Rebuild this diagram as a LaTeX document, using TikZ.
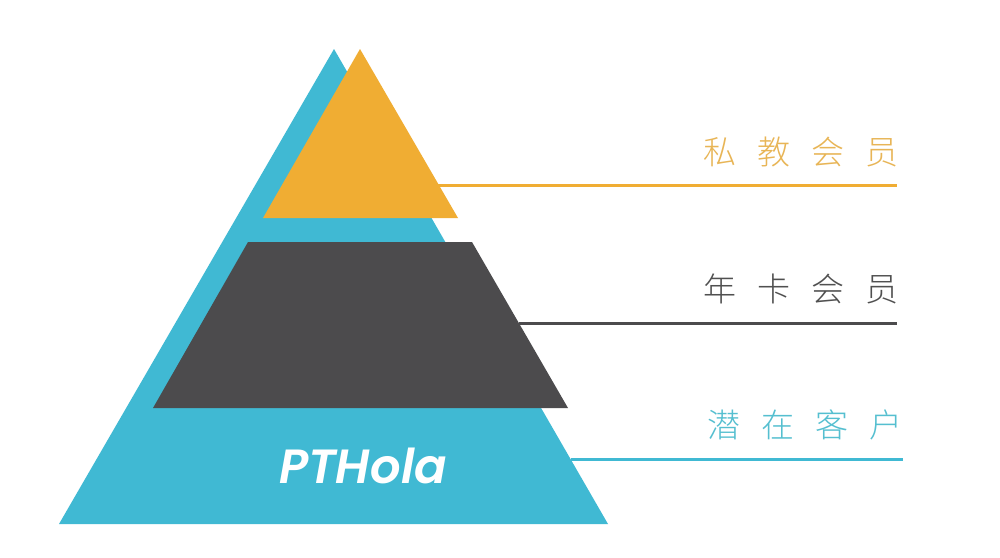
\documentclass[tikz,border=0pt]{standalone}
\usepackage{fontspec}
\setmainfont{Poppins}
\newfontfamily\cjk{Noto Sans CJK SC}[UprightFont={* Light}]
\newfontfamily\logofont{Poppins}[UprightFont={* SemiBold Italic}]
\definecolor{pblue}{HTML}{40B9D3}
\definecolor{porange}{HTML}{F0AD33}
\definecolor{pdark}{HTML}{4C4B4D}
\definecolor{torange}{HTML}{E8B556}
\definecolor{tdark}{HTML}{505050}
\definecolor{tblue}{HTML}{55BFD0}
\tikzset{
  level/.style={line width=3pt},
  label/.style={anchor=east, inner sep=0pt, font=\cjk\fontsize{33}{33}\selectfont},
}
\newcommand{\gapch}{\hspace{21pt}}
\begin{document}
\begin{tikzpicture}[x=1pt,y=-1pt]
\fill[white] (0,0) rectangle (1000,557);
\useasboundingbox (0,0) rectangle (1000,557);
% shapes
\fill[pblue] (334,49) -- (608,524) -- (59,524) -- cycle;
\fill[porange] (360,49) -- (458,218) -- (263,218) -- cycle;
\fill[pdark] (248,242) -- (472,242) -- (568,408) -- (153,408) -- cycle;
\node[white, inner sep=0pt, anchor=base, font=\logofont\fontsize{48}{48}\selectfont] (logo) at (363,483) {PTHola};
% anchors of the lines
\coordinate (o1) at (438,185);
\coordinate (o2) at (897,185);
\coordinate (d1) at (519,323);
\coordinate (d2) at (897,323);
\coordinate (b1) at (571,459);
\coordinate (b2) at (903,459);
\draw[level, porange] (o1) -- (o2);
\draw[level, pdark] (d1) -- (d2);
\draw[level, pblue] (b1) -- (b2);
% labels
\node[label, torange] (l1) at (899,152) {私\gapch 教\gapch 会\gapch 员};
\node[label, tdark] (l2) at (899,289) {年\gapch 卡\gapch 会\gapch 员};
\node[label, tblue] (l3) at (903,425) {潜\gapch 在\gapch 客\gapch 户};
\end{tikzpicture}
\end{document}
